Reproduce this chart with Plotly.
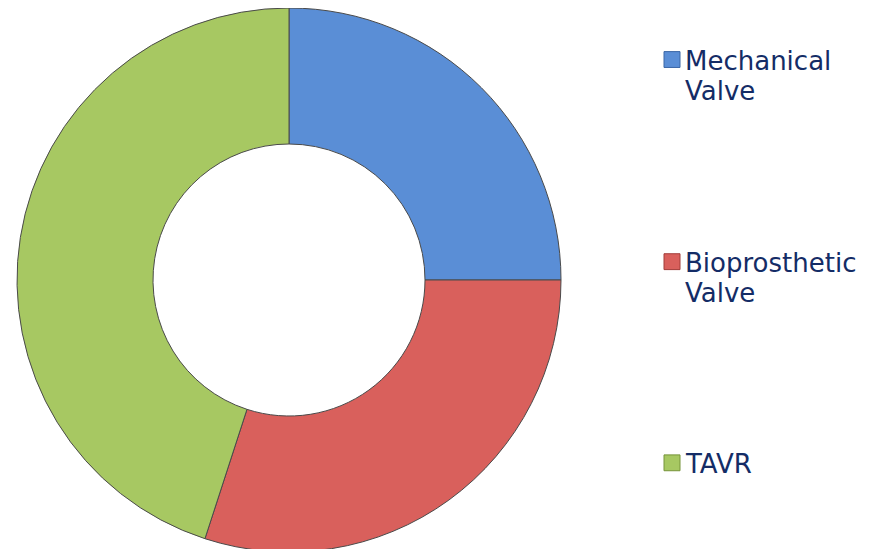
import plotly.graph_objects as go

labels = ["Mechanical Valve", "Bioprosthetic Valve", "TAVR"]
values = [25, 30, 45]
colors = ["#5A8ED6", "#D9605C", "#A7C862"]
edge_colors = ["#3A66A6", "#A23C39", "#76943A"]
legend_lines = [["Mechanical", "Valve"], ["Bioprosthetic", "Valve"], ["TAVR"]]

W, H = 881, 549
OFF = 8  # page body margin offset

fig = go.Figure(go.Pie(
    labels=labels, values=values, hole=0.5, sort=False, direction="clockwise",
    rotation=0, textinfo="none", hoverinfo="label+percent",
    marker=dict(colors=colors, line=dict(color="#4a4a4a", width=1)),
    domain=dict(x=[(17 - OFF) / W, (561 - OFF) / W], y=[0, 1]),
    showlegend=False,
))

sq_centers = [60, 264, 467]
line_gap = 31
font = dict(family="DejaVu Sans, Verdana, sans-serif", size=26, color="#142C66")
annotations = []
shapes = []
for i, lines in enumerate(legend_lines):
    cy = sq_centers[i] - OFF
    shapes.append(dict(type="rect", xref="paper", yref="paper",
                       x0=(664 - OFF) / W, x1=(680 - OFF) / W,
                       y0=1 - (cy + 8) / H, y1=1 - (cy - 8) / H,
                       fillcolor=colors[i], line=dict(color=edge_colors[i], width=1)))
    for j, t in enumerate(lines):
        annotations.append(dict(text=t, xref="paper", yref="paper",
                                x=(683 - OFF) / W, y=1 - (cy + 1 + j * line_gap) / H,
                                xanchor="left", yanchor="middle", showarrow=False,
                                font=font))

fig.update_layout(
    width=W, height=H, margin=dict(l=0, r=0, t=0, b=5),
    paper_bgcolor="white", plot_bgcolor="white",
    annotations=annotations, shapes=shapes,
)
fig.write_html("out.html")
